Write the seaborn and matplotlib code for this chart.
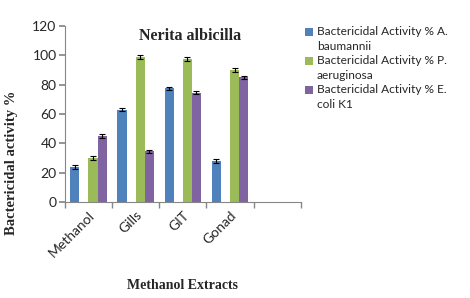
import pandas as pd
import numpy as np
import matplotlib.pyplot as plt
import seaborn as sns
from matplotlib.patches import Rectangle

# Data
extracts = ['Methanol', 'Gills', 'GIT', 'Gonad', '']
series = ['Bactericidal Activity % A.\nbaumannii', ' ',
          'Bactericidal Activity % P.\naeruginosa',
          'Bactericidal Activity % E.\ncoli K1']
a_baumannii = [24, 63, 77.5, 28, 0]
blank_series = [0, 0, 0, 0, 0]
p_aeruginosa = [30, 99, 97.5, 90, 0]
e_coli = [45, 34.5, 74.5, 85, 0]
a_err = [1.2, 1.2, 1.2, 1.2, 0]
p_err = [1.2, 1.2, 1.2, 1.2, 0]
e_err = [1.2, 1.2, 1.2, 1.2, 0]

colors = ['#4F81BD', '#FFFFFF', '#9BBB59', '#8064A2']

rows = []
for vals, errs, name in [(a_baumannii, a_err, series[0]), (blank_series, blank_series, series[1]),
                         (p_aeruginosa, p_err, series[2]), (e_coli, e_err, series[3])]:
    for ext, v, e in zip(extracts, vals, errs):
        rows.append({'extract': ext, 'series': name, 'value': v, 'err': e})
df = pd.DataFrame(rows)

sns.set_theme(style='white')
plt.rcParams['font.family'] = ['Lato', 'DejaVu Sans']

W, H = 470, 298
fig = plt.figure(figsize=(4.7, 2.98), dpi=100)
ax = fig.add_axes([0.138, 0.322, 0.502, 0.591])

sns.barplot(data=df, x='extract', y='value', hue='series', hue_order=series,
            order=extracts, palette=colors, saturation=1, width=0.77, errorbar=None,
            edgecolor='none', linewidth=0, ax=ax, legend=False)

# error bars on drawn bars
for cont, name in zip(ax.containers, series):
    sub = df[df['series'] == name].set_index('extract').loc[extracts]
    for patch, v, e in zip(cont.patches, sub['value'], sub['err']):
        if name == ' ' or v == 0:
            patch.set_visible(False)
            continue
        xc = patch.get_x() + patch.get_width() / 2
        ax.errorbar(xc, v, yerr=e, fmt='none', ecolor='black', elinewidth=0.8,
                    capsize=2.2, capthick=0.8)

ax.set_ylim(0, 120)
ax.set_yticks(range(0, 121, 20))
ax.set_xlim(-0.5, 4.5)
ax.set_xticks(range(5))
ax.set_xticks(np.arange(-0.5, 4.6, 1), minor=True)
ax.tick_params(axis='x', which='major', length=0, pad=5)
ax.tick_params(axis='x', which='minor', length=4, color='#868686', direction='out', bottom=True)
ax.tick_params(axis='y', length=4, color='#868686', direction='out', left=True, labelsize=10, pad=2)
ax.set_xticklabels(extracts, rotation=45, ha='right', rotation_mode='anchor', fontsize=10)

for s in ['top', 'right']:
    ax.spines[s].set_visible(False)
for s in ['left', 'bottom']:
    ax.spines[s].set_color('#868686')
    ax.spines[s].set_linewidth(0.8)

ax.set_xlabel('')
ax.set_ylabel('')
fig.text(0.389, 0.043, 'Methanol Extracts', ha='center', va='center',
         family='Liberation Serif', fontweight='bold', fontsize=10)
fig.text(0.024, 0.455, 'Bactericidal activity %', ha='center', va='center', rotation=90,
         family='Liberation Serif', fontweight='bold', fontsize=10.5)
ax.text(0.53, 0.99, 'Nerita albicilla', transform=ax.transAxes, ha='center', va='top',
        family='Liberation Serif', fontweight='bold', fontsize=11.5)

# legend, drawn by hand: square beside the first line of each wrapped label
for k, i in enumerate([0, 2, 3]):
    top = 26 + 29 * k
    fig.patches.append(Rectangle((305 / W, 1 - (top + 10) / H), 8 / W, 7.5 / H,
                                 transform=fig.transFigure, facecolor=colors[i],
                                 edgecolor='none'))
    fig.text(317 / W, 1 - top / H, series[i], ha='left', va='top',
             fontsize=8.6, linespacing=1.45)

fig.savefig('out.png', dpi=100)
